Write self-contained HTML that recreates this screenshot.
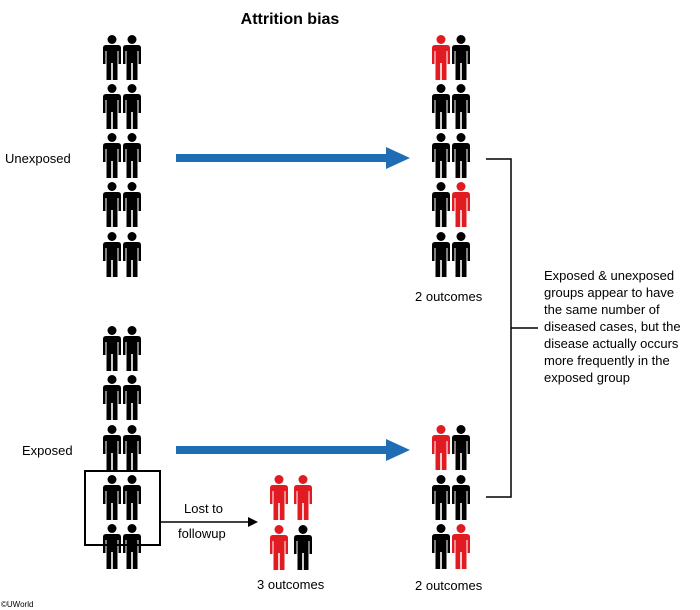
<!DOCTYPE html>
<html><head><meta charset="utf-8"><style>
body{margin:0;background:#fff;}
svg{display:block;font-family:"Liberation Sans",Arial,sans-serif;}
</style></head><body>
<svg width="700" height="610" viewBox="0 0 700 610" xmlns="http://www.w3.org/2000/svg">
<defs>
<g id="p">
<circle cx="9" cy="4.5" r="4.5"/>
<path d="M3,10 H15 Q18,10 18,13 V29 H15.5 V16 H14.5 V45 H9.8 V28 H8.2 V45 H3.5 V16 H2.5 V29 H0 V13 Q0,10 3,10 Z"/>
</g>
<marker id="ab" markerWidth="10" markerHeight="10" refX="0" refY="5" orient="auto" markerUnits="userSpaceOnUse"><path d="M0,0 L10,5 L0,10 Z" fill="#000"/></marker>
</defs>
<text x="290" y="24" font-size="16" font-weight="bold" text-anchor="middle">Attrition bias</text>
<g fill="#000">
<!-- left top -->
<use href="#p" x="103" y="35"/><use href="#p" x="123" y="35"/>
<use href="#p" x="103" y="84"/><use href="#p" x="123" y="84"/>
<use href="#p" x="103" y="133"/><use href="#p" x="123" y="133"/>
<use href="#p" x="103" y="182"/><use href="#p" x="123" y="182"/>
<use href="#p" x="103" y="232"/><use href="#p" x="123" y="232"/>
<!-- left bottom -->
<use href="#p" x="103" y="326"/><use href="#p" x="123" y="326"/>
<use href="#p" x="103" y="375"/><use href="#p" x="123" y="375"/>
<use href="#p" x="103" y="425"/><use href="#p" x="123" y="425"/>
<use href="#p" x="103" y="475"/><use href="#p" x="123" y="475"/>
<use href="#p" x="103" y="524"/><use href="#p" x="123" y="524"/>
<!-- right top -->
<use href="#p" x="432" y="35" fill="#e11b22"/><use href="#p" x="452" y="35"/>
<use href="#p" x="432" y="84"/><use href="#p" x="452" y="84"/>
<use href="#p" x="432" y="133"/><use href="#p" x="452" y="133"/>
<use href="#p" x="432" y="182"/><use href="#p" x="452" y="182" fill="#e11b22"/>
<use href="#p" x="432" y="232"/><use href="#p" x="452" y="232"/>
<!-- right bottom -->
<use href="#p" x="432" y="425" fill="#e11b22"/><use href="#p" x="452" y="425"/>
<use href="#p" x="432" y="475"/><use href="#p" x="452" y="475"/>
<use href="#p" x="432" y="524"/><use href="#p" x="452" y="524" fill="#e11b22"/>
<!-- lost -->
<use href="#p" x="270" y="475" fill="#e11b22"/><use href="#p" x="294" y="475" fill="#e11b22"/>
<use href="#p" x="270" y="525" fill="#e11b22"/><use href="#p" x="294" y="525"/>
</g>
<!-- blue arrows -->
<rect x="176" y="154" width="212" height="8" fill="#1f6db5"/>
<path d="M386,147 L410,158 L386,169 Z" fill="#1f6db5"/>
<rect x="176" y="446" width="212" height="8" fill="#1f6db5"/>
<path d="M386,439 L410,450 L386,461 Z" fill="#1f6db5"/>
<!-- box -->
<rect x="85" y="471" width="75" height="74" fill="none" stroke="#000" stroke-width="2"/>
<line x1="160" y1="522" x2="248" y2="522" stroke="#000" stroke-width="1.5" marker-end="url(#ab)"/>
<!-- bracket -->
<path d="M486,159 H511 V497 H486 M511,328 H538" fill="none" stroke="#000" stroke-width="1.5"/>
<g font-size="13" fill="#000">
<text x="5" y="163">Unexposed</text>
<text x="22" y="455">Exposed</text>
<text x="415" y="301">2 outcomes</text>
<text x="415" y="590">2 outcomes</text>
<text x="257" y="589">3 outcomes</text>
<text x="184" y="513">Lost to</text>
<text x="178" y="538">followup</text>
<text x="544" y="280">Exposed &amp; unexposed</text>
<text x="544" y="297">groups appear to have</text>
<text x="544" y="314">the same number of</text>
<text x="544" y="331">diseased cases, but the</text>
<text x="544" y="348">disease actually occurs</text>
<text x="544" y="365">more frequently in the</text>
<text x="544" y="382">exposed group</text>
</g>
<text x="1" y="607" font-size="8">©UWorld</text>
</svg>
</body></html>
